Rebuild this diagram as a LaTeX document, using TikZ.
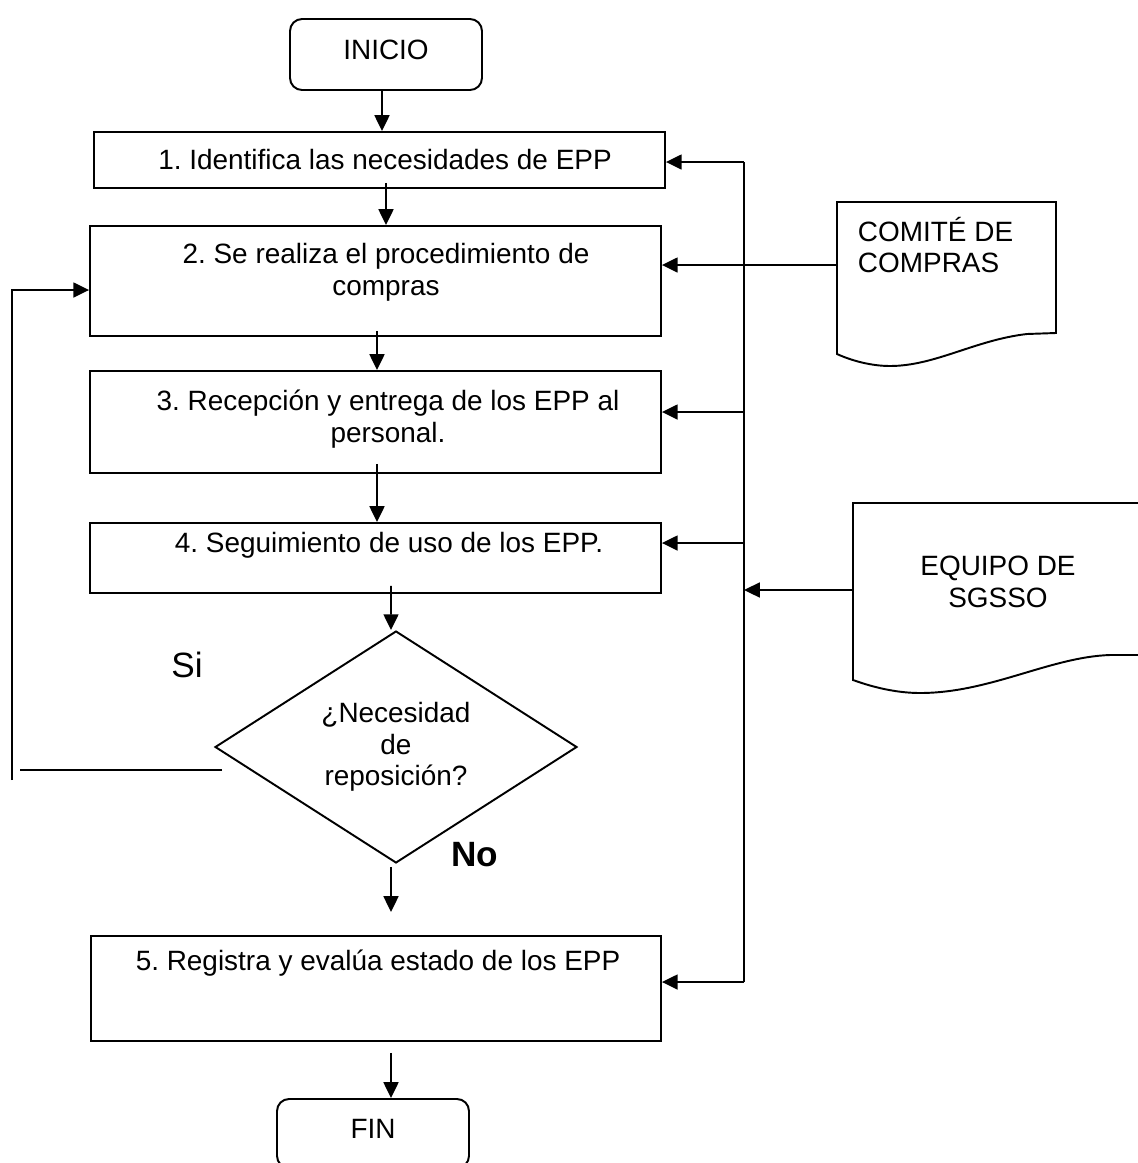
\documentclass[tikz,border=0pt]{standalone}
\usepackage{fontspec}
\setmainfont{Liberation Sans}
\usetikzlibrary{arrows.meta,shapes.geometric,calc}
\frenchspacing
\begin{document}
\begin{tikzpicture}[x=0.02cm,y=-0.02cm,
  line width=1.1pt,
  every node/.style={font=\fontsize{15.9}{18}\selectfont\frenchspacing, inner sep=0pt},
  stepbox/.style={draw, rectangle, minimum width=11.42cm},
  term/.style={draw, rectangle, rounded corners=0.24cm, minimum width=3.84cm},
  txt/.style={align=center},
  arr/.style={-{Triangle[length=9pt,width=8.5pt]}},
  decision/.style={draw, diamond, aspect=1.56, minimum width=7.24cm,
                   minimum height=4.64cm, align=center},
  big/.style={font=\fontsize{20}{24}\selectfont}
]
\useasboundingbox (0,0) rectangle (1137,1163);

% terminals
\node[term, minimum height=1.42cm] (ini) at (386,54.5) {};
\node (tini) at (386,50) {INICIO};
\node[term, minimum height=1.38cm] (fin) at (373,1133.5) {};
\node (tfin) at (373,1129) {FIN};

% process steps
\node[stepbox, minimum height=1.12cm] (b1) at (379.5,160) {};
\node[txt] (t1) at (385,160) {1. Identifica las necesidades de EPP};
\node[stepbox, minimum height=2.2cm] (b2) at (375.5,281) {};
\node[txt] (t2) at (386,272) {2. Se realiza el procedimiento de\\compras};
\node[stepbox, minimum height=2.04cm] (b3) at (375.5,422) {};
\node[txt] (t3) at (388,419) {3. Recepción y entrega de los EPP al\\personal.};
\node[stepbox, minimum height=1.4cm] (b4) at (375.5,558) {};
\node[txt] (t4) at (389,545) {4. Seguimiento de uso de los EPP.};
\node[stepbox, minimum width=11.4cm, minimum height=2.1cm] (b5) at (376,988.5) {};
\node[txt] (t5) at (378,963) {5. Registra y evalúa estado de los EPP};

% decision
\node[decision] (dia) at (396,747) {¿Necesidad\\de\\reposición?};
\node[big] (si) at (187,665) {Si};
\node[big, font=\fontsize{20}{24}\selectfont\bfseries] (no) at (475,855) {No};

% documents
\draw (837,202) -- (1056,202) -- (1056,333) -- (1027,334)
  .. controls (975,340) and (935,366) .. (890,366)
  .. controls (870,366) and (850,360) .. (837,354) -- cycle;
\node[anchor=west, align=left] (com) at (857,245) {COMITÉ DE\\COMPRAS};
\draw (1140,503) -- (853,503) -- (853,680)
  .. controls (875,688) and (898,693) .. (920,693)
  .. controls (990,693) and (1050,657) .. (1110,655) -- (1140,655);
\node[txt] (sg) at (998,582) {EQUIPO DE\\SGSSO};

% main flow
\draw[arr] ($(ini.south)+(-4,0)$) -- ($(b1.north)+(2.5,0)$);
\draw[arr] ($(b1.south)+(6.5,-6)$) -- ($(b2.north)+(10.5,0)$);
\draw[arr] ($(b2.south)+(1.5,-6)$) -- ($(b3.north)+(1.5,0)$);
\draw[arr] ($(b3.south)+(1.5,-10)$) -- ($(b4.north)+(1.5,0)$);
\draw[arr] ($(b4.south)+(15.5,-8)$) -- ($(dia.north)+(-5,0)$);
\coordinate (noEnd) at (391,912);
\draw[arr] ($(dia.south)+(-5,3)$) -- (noEnd);
\draw[arr] ($(b5.south)+(15,11)$) -- ($(fin.north)+(18,0)$);

% return loop
\coordinate (loopEnd) at (20,770);
\coordinate (loopBot) at (12,780);
\coordinate (loopTop) at (12,290);
\draw ($(dia.west)+(8,23)$) -- (loopEnd);
\draw[arr] (loopBot) -- (loopTop) -- (b2.west |- loopTop);

% feedback bus on the right
\coordinate (busT) at (744,162);
\coordinate (bus3) at (744,412);
\coordinate (bus4) at (744,543);
\coordinate (busB) at (744,982);
\draw (busT) -- (busB);
\draw[arr] (busT) -- (b1.east |- busT);
\draw[arr] (bus3) -- (b3.east |- bus3);
\draw[arr] (bus4) -- (b4.east |- bus4);
\draw[arr] (busB) -- (b5.east |- busB);
\coordinate (comIn) at (837,265);
\draw[arr] (comIn) -- (b2.east |- comIn);
\coordinate (sgIn) at (853,590);
\draw[arr] (sgIn) -- (busT |- sgIn);
\end{tikzpicture}
\end{document}
